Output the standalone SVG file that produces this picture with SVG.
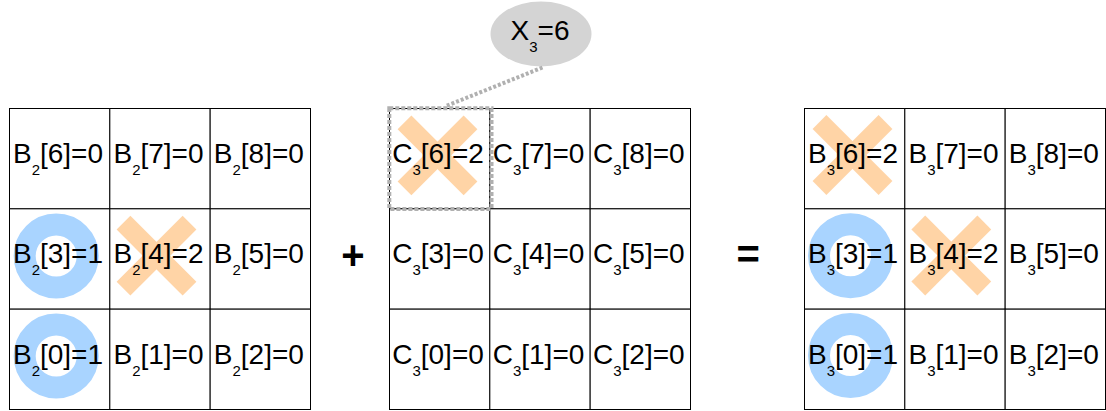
<svg xmlns="http://www.w3.org/2000/svg" width="1106" height="411" viewBox="0 0 1106 411">
<style>
.cell{fill:#fff;stroke:#000;stroke-width:1}
.t{font-family:"Liberation Sans",Arial,sans-serif;font-size:28px;fill:#000;text-anchor:middle}
.s{font-size:15px}
.ring{fill:none;stroke:#a9d4ff;stroke-width:22}
.cross{stroke:#ffd4a6;stroke-width:19.5;stroke-linecap:butt}
.op{font-family:"Liberation Sans",Arial,sans-serif;font-size:40px;font-weight:bold;fill:#000;text-anchor:middle}
.dash{fill:none;stroke:#b0b0b0;stroke-width:4}
</style>
<defs>
<g id="x"><line class="cross" x1="-33" y1="-33" x2="33" y2="33"/><line class="cross" x1="33" y1="-33" x2="-33" y2="33"/></g>
</defs>
<rect width="1106" height="411" fill="#fff"/>

<g id="gridB2">
<g id="B2_6"><rect class="cell" x="9.5" y="108.5" width="100.33" height="100.33"/><text class="t" x="58" y="163">B<tspan class="s" dy="12">2</tspan><tspan dy="-12">[6]=0</tspan></text></g>
<g id="B2_7"><rect class="cell" x="109.83" y="108.5" width="100.33" height="100.33"/><text class="t" x="158.5" y="163">B<tspan class="s" dy="12">2</tspan><tspan dy="-12">[7]=0</tspan></text></g>
<g id="B2_8"><rect class="cell" x="210.17" y="108.5" width="100.33" height="100.33"/><text class="t" x="258.8" y="163">B<tspan class="s" dy="12">2</tspan><tspan dy="-12">[8]=0</tspan></text></g>
<g id="B2_3"><rect class="cell" x="9.5" y="208.83" width="100.33" height="100.33"/><circle class="ring" cx="56.2" cy="256" r="31.5"/><text class="t" x="58" y="263.4">B<tspan class="s" dy="12">2</tspan><tspan dy="-12">[3]=1</tspan></text></g>
<g id="B2_4"><rect class="cell" x="109.83" y="208.83" width="100.33" height="100.33"/><use href="#x" x="156.5" y="255.7"/><text class="t" x="158.5" y="263.4">B<tspan class="s" dy="12">2</tspan><tspan dy="-12">[4]=2</tspan></text></g>
<g id="B2_5"><rect class="cell" x="210.17" y="208.83" width="100.33" height="100.33"/><text class="t" x="258.8" y="263.4">B<tspan class="s" dy="12">2</tspan><tspan dy="-12">[5]=0</tspan></text></g>
<g id="B2_0"><rect class="cell" x="9.5" y="309.17" width="100.33" height="100.33"/><circle class="ring" cx="56.2" cy="356" r="31.5"/><text class="t" x="58" y="363.8">B<tspan class="s" dy="12">2</tspan><tspan dy="-12">[0]=1</tspan></text></g>
<g id="B2_1"><rect class="cell" x="109.83" y="309.17" width="100.33" height="100.33"/><text class="t" x="158.5" y="363.8">B<tspan class="s" dy="12">2</tspan><tspan dy="-12">[1]=0</tspan></text></g>
<g id="B2_2"><rect class="cell" x="210.17" y="309.17" width="100.33" height="100.33"/><text class="t" x="258.8" y="363.8">B<tspan class="s" dy="12">2</tspan><tspan dy="-12">[2]=0</tspan></text></g>
</g>

<g id="plus"><text class="op" x="353" y="268.5">+</text></g>

<g id="gridC3">
<g id="C3_6"><rect class="cell" x="389.5" y="108.5" width="100.33" height="100.33"/><use href="#x" x="437.5" y="155.3"/><text class="t" x="438" y="163">C<tspan class="s" dy="12">3</tspan><tspan dy="-12">[6]=2</tspan></text></g>
<g id="C3_7"><rect class="cell" x="489.83" y="108.5" width="100.33" height="100.33"/><text class="t" x="538.5" y="163">C<tspan class="s" dy="12">3</tspan><tspan dy="-12">[7]=0</tspan></text></g>
<g id="C3_8"><rect class="cell" x="590.17" y="108.5" width="100.33" height="100.33"/><text class="t" x="638.8" y="163">C<tspan class="s" dy="12">3</tspan><tspan dy="-12">[8]=0</tspan></text></g>
<g id="C3_3"><rect class="cell" x="389.5" y="208.83" width="100.33" height="100.33"/><text class="t" x="438" y="263.4">C<tspan class="s" dy="12">3</tspan><tspan dy="-12">[3]=0</tspan></text></g>
<g id="C3_4"><rect class="cell" x="489.83" y="208.83" width="100.33" height="100.33"/><text class="t" x="538.5" y="263.4">C<tspan class="s" dy="12">3</tspan><tspan dy="-12">[4]=0</tspan></text></g>
<g id="C3_5"><rect class="cell" x="590.17" y="208.83" width="100.33" height="100.33"/><text class="t" x="638.8" y="263.4">C<tspan class="s" dy="12">3</tspan><tspan dy="-12">[5]=0</tspan></text></g>
<g id="C3_0"><rect class="cell" x="389.5" y="309.17" width="100.33" height="100.33"/><text class="t" x="438" y="363.8">C<tspan class="s" dy="12">3</tspan><tspan dy="-12">[0]=0</tspan></text></g>
<g id="C3_1"><rect class="cell" x="489.83" y="309.17" width="100.33" height="100.33"/><text class="t" x="538.5" y="363.8">C<tspan class="s" dy="12">3</tspan><tspan dy="-12">[1]=0</tspan></text></g>
<g id="C3_2"><rect class="cell" x="590.17" y="309.17" width="100.33" height="100.33"/><text class="t" x="638.8" y="363.8">C<tspan class="s" dy="12">3</tspan><tspan dy="-12">[2]=0</tspan></text></g>
</g>

<g id="equals"><text class="op" x="748.3" y="268">=</text></g>

<g id="gridB3">
<g id="B3_6"><rect class="cell" x="804.5" y="108.5" width="100.33" height="100.33"/><use href="#x" x="852.5" y="155"/><text class="t" x="853" y="163">B<tspan class="s" dy="12">3</tspan><tspan dy="-12">[6]=2</tspan></text></g>
<g id="B3_7"><rect class="cell" x="904.83" y="108.5" width="100.33" height="100.33"/><text class="t" x="953.5" y="163">B<tspan class="s" dy="12">3</tspan><tspan dy="-12">[7]=0</tspan></text></g>
<g id="B3_8"><rect class="cell" x="1005.17" y="108.5" width="100.33" height="100.33"/><text class="t" x="1053.8" y="163">B<tspan class="s" dy="12">3</tspan><tspan dy="-12">[8]=0</tspan></text></g>
<g id="B3_3"><rect class="cell" x="804.5" y="208.83" width="100.33" height="100.33"/><circle class="ring" cx="850.5" cy="255.7" r="31.5"/><text class="t" x="853" y="263.4">B<tspan class="s" dy="12">3</tspan><tspan dy="-12">[3]=1</tspan></text></g>
<g id="B3_4"><rect class="cell" x="904.83" y="208.83" width="100.33" height="100.33"/><use href="#x" x="951.3" y="255.5"/><text class="t" x="953.5" y="263.4">B<tspan class="s" dy="12">3</tspan><tspan dy="-12">[4]=2</tspan></text></g>
<g id="B3_5"><rect class="cell" x="1005.17" y="208.83" width="100.33" height="100.33"/><text class="t" x="1053.8" y="263.4">B<tspan class="s" dy="12">3</tspan><tspan dy="-12">[5]=0</tspan></text></g>
<g id="B3_0"><rect class="cell" x="804.5" y="309.17" width="100.33" height="100.33"/><circle class="ring" cx="850.5" cy="355.5" r="31.5"/><text class="t" x="853" y="363.8">B<tspan class="s" dy="12">3</tspan><tspan dy="-12">[0]=1</tspan></text></g>
<g id="B3_1"><rect class="cell" x="904.83" y="309.17" width="100.33" height="100.33"/><text class="t" x="953.5" y="363.8">B<tspan class="s" dy="12">3</tspan><tspan dy="-12">[1]=0</tspan></text></g>
<g id="B3_2"><rect class="cell" x="1005.17" y="309.17" width="100.33" height="100.33"/><text class="t" x="1053.8" y="363.8">B<tspan class="s" dy="12">3</tspan><tspan dy="-12">[2]=0</tspan></text></g>
</g>

<g id="highlight"><rect class="dash" x="389.3" y="108.3" width="102.2" height="100.7" stroke-dasharray="4 2"/></g>

<g id="X3"><ellipse cx="541" cy="34" rx="50.5" ry="32.5" fill="#d4d4d4"/><text class="t" x="540" y="39.5">X<tspan class="s" dy="12">3</tspan><tspan dy="-12">=6</tspan></text></g>

<g id="connectors"><line class="dash" x1="542.5" y1="67.5" x2="446" y2="106" stroke-dasharray="3 2"/></g>
</svg>
